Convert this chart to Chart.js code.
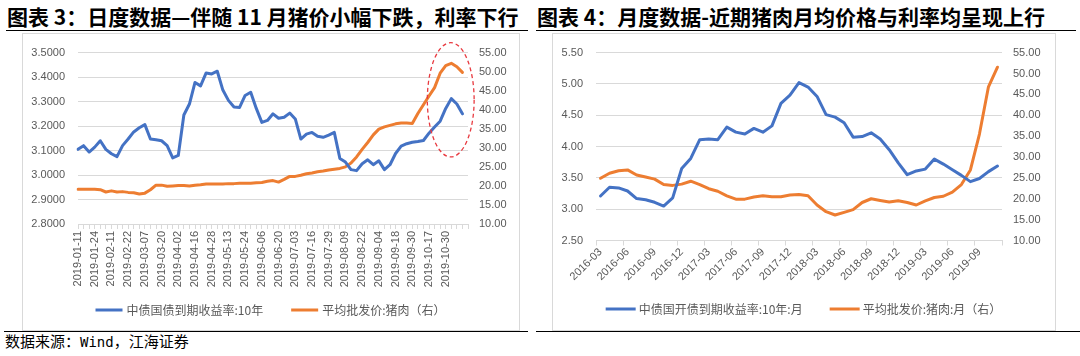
<!DOCTYPE html>
<html><head><meta charset="utf-8">
<script src="https://cdn.jsdelivr.net/npm/chart.js@4.4.1/dist/chart.umd.min.js"></script>
<style>
html,body{margin:0;padding:0;background:#fff;}
body{width:1080px;height:356px;overflow:hidden;position:relative;font-family:"Noto Sans CJK SC","Noto Sans",sans-serif;}
.title{position:absolute;top:4px;font-weight:bold;font-size:21px;line-height:25px;color:#000;white-space:nowrap;}
.rule{position:absolute;height:0;border-top:1.5px solid #000;}
.box{position:absolute;border:1px solid #d9d9d9;box-sizing:border-box;}
.cv{position:absolute;}
.src{position:absolute;left:5px;top:331px;font-size:15px;line-height:20px;color:#000;white-space:nowrap;}
.mono{font-family:"DejaVu Sans Mono","Liberation Mono",monospace;font-size:14px;}
</style>
</head><body>
<div class="title" style="left:7px;">图表 3：日度数据—伴随 11 月猪价小幅下跌，利率下行</div>
<div class="title" style="left:537px;">图表 4：月度数据-近期猪肉月均价格与利率均呈现上行</div>
<div class="rule" style="left:6px;width:522px;top:30px;"></div>
<div class="rule" style="left:536px;width:540px;top:30px;"></div>
<div class="box" style="left:22px;top:33px;width:498px;height:298px;"></div>
<div class="box" style="left:552px;top:33px;width:504px;height:298px;"></div>
<canvas id="c1" class="cv" width="497" height="297" style="left:22px;top:33px;"></canvas>
<canvas id="c2" class="cv" width="503" height="297" style="left:552px;top:33px;"></canvas>
<div class="rule" style="left:4px;width:524px;top:331px;"></div>
<div class="rule" style="left:536px;width:544px;top:331px;"></div>
<div class="src">数据来源：<span class="mono">Wind</span>，江海证券</div>
<script>
// ---------- Chart 3: daily data (sampled every ~3 trading days) ----------
const DAILY_DATES = [
 "2019-01-11","2019-01-16","2019-01-21","2019-01-24","2019-01-29","2019-02-01","2019-02-11","2019-02-14","2019-02-19","2019-02-22",
 "2019-02-27","2019-03-04","2019-03-07","2019-03-12","2019-03-15","2019-03-20","2019-03-25","2019-03-28","2019-04-02","2019-04-09",
 "2019-04-12","2019-04-16","2019-04-19","2019-04-24","2019-04-28","2019-05-06","2019-05-09","2019-05-13","2019-05-16","2019-05-21",
 "2019-05-24","2019-05-29","2019-06-03","2019-06-06","2019-06-12","2019-06-17","2019-06-20","2019-06-25","2019-06-28","2019-07-03",
 "2019-07-08","2019-07-11","2019-07-16","2019-07-19","2019-07-24","2019-07-29","2019-08-01","2019-08-06","2019-08-09","2019-08-14",
 "2019-08-19","2019-08-22","2019-08-27","2019-08-30","2019-09-04","2019-09-09","2019-09-12","2019-09-18","2019-09-23","2019-09-26",
 "2019-09-30","2019-10-10","2019-10-14","2019-10-17","2019-10-22","2019-10-25","2019-10-30","2019-11-04","2019-11-07","2019-11-12",
 "2019-11-15"];
const DAILY_LABEL_EVERY = 3;
const CGB_10Y = [
 3.105,3.120,3.094,3.114,3.140,3.105,3.087,3.075,3.120,3.147,
 3.176,3.193,3.206,3.147,3.144,3.140,3.120,3.070,3.080,3.245,
 3.290,3.378,3.364,3.417,3.413,3.424,3.347,3.305,3.278,3.276,
 3.325,3.338,3.272,3.215,3.223,3.250,3.232,3.236,3.253,3.229,
 3.147,3.167,3.174,3.158,3.154,3.163,3.174,3.068,3.053,3.022,
 3.018,3.046,3.062,3.042,3.058,3.022,3.042,3.088,3.118,3.128,
 3.134,3.137,3.141,3.171,3.196,3.220,3.272,3.312,3.290,3.250,
 null];
const PORK_DAILY = [
 19.1,19.1,19.1,19.1,19.0,18.4,18.7,18.4,18.5,18.3,
 18.2,17.9,18.1,19.0,20.2,20.2,19.9,20.0,20.1,20.1,
 20.0,20.2,20.3,20.5,20.5,20.5,20.5,20.6,20.6,20.7,
 20.7,20.7,20.8,20.9,21.2,21.4,21.0,21.7,22.5,22.5,
 22.8,23.2,23.4,23.7,23.9,24.2,24.4,24.6,25.0,26.0,
 27.6,29.6,31.4,33.4,34.9,35.5,35.9,36.3,36.5,36.5,
 36.4,39.0,41.3,43.6,45.8,49.6,51.6,52.2,51.3,49.8,
 null];
// highlight ellipse, in data units (category index, right-axis value)
const HIGHLIGHT = {iFrom:62.7, iTo:71.1, vTop:57.6, vBottom:27.6};

// ---------- Chart 4: monthly data ----------
const MONTHS = [
 "2016-03","2016-04","2016-05","2016-06","2016-07","2016-08","2016-09","2016-10","2016-11","2016-12",
 "2017-01","2017-02","2017-03","2017-04","2017-05","2017-06","2017-07","2017-08","2017-09","2017-10",
 "2017-11","2017-12","2018-01","2018-02","2018-03","2018-04","2018-05","2018-06","2018-07","2018-08",
 "2018-09","2018-10","2018-11","2018-12","2019-01","2019-02","2019-03","2019-04","2019-05","2019-06",
 "2019-07","2019-08","2019-09","2019-10","2019-11"];
const MONTH_LABEL_EVERY = 3;
const CDB_10Y = [
 3.21,3.35,3.34,3.29,3.17,3.15,3.11,3.05,3.18,3.65,
 3.81,4.11,4.12,4.11,4.31,4.23,4.20,4.29,4.23,4.33,
 4.69,4.82,5.02,4.95,4.80,4.51,4.47,4.38,4.15,4.16,
 4.22,4.12,3.95,3.74,3.55,3.61,3.64,3.80,3.72,3.63,
 3.54,3.44,3.49,3.60,3.69];
const PORK_MONTHLY = [
 24.9,26.1,26.7,26.9,25.7,25.2,24.7,23.4,23.2,23.5,
 24.2,23.4,22.4,21.8,20.7,19.9,19.9,20.4,20.7,20.5,
 20.5,20.9,21.0,20.7,18.5,16.9,16.1,16.75,17.4,19.1,
 20.0,19.6,19.2,19.5,19.1,18.5,19.5,20.3,20.6,21.6,
 23.4,26.9,35.5,46.8,51.5];

const BLUE = '#4472C4', ORANGE = '#ED7D31', GRID = '#d9d9d9', TXT = '#595959';
const TICK_FONT = {family:'"Liberation Sans", Arial, sans-serif', size:11};

const lineLegend = {
  id:'lineLegend',
  afterDraw(chart, args, o){
    const ctx = chart.ctx;
    ctx.save();
    ctx.font = o.fontSize + 'px ' + o.family;
    ctx.textBaseline = 'middle';
    const items = chart.data.datasets.map(d => ({t:d.label, c:d.borderColor, w:ctx.measureText(d.label).width}));
    let total = 0;
    items.forEach((it,k) => { total += o.lineW + o.gap + it.w + (k ? o.itemGap : 0); });
    let x = chart.width/2 - total/2 + (o.shift||0);
    items.forEach((it,k) => {
      if (k) x += o.itemGap;
      ctx.strokeStyle = it.c; ctx.lineWidth = 3; ctx.lineCap='butt';
      ctx.beginPath(); ctx.moveTo(x, o.y); ctx.lineTo(x + o.lineW, o.y); ctx.stroke();
      x += o.lineW + o.gap;
      ctx.fillStyle = o.color; ctx.fillText(it.t, x, o.y);
      x += it.w;
    });
    ctx.restore();
  }
};

const ellipsePlugin = {
  id:'ellipseMark',
  afterDatasetsDraw(chart, args, o){
    if (!o || !o.box) return;
    const xs = chart.scales.x, ys = chart.scales.y1, b = o.box;
    const x1 = xs.getPixelForValue(b.iFrom), x2 = xs.getPixelForValue(b.iTo);
    const y1 = ys.getPixelForValue(b.vTop), y2 = ys.getPixelForValue(b.vBottom);
    const ctx = chart.ctx;
    ctx.save();
    ctx.strokeStyle = '#e8393f'; ctx.lineWidth = 1.3; ctx.setLineDash([4,3]);
    ctx.beginPath();
    ctx.ellipse((x1+x2)/2, (y1+y2)/2, Math.abs(x2-x1)/2, Math.abs(y2-y1)/2, 0, 0, Math.PI*2);
    ctx.stroke();
    ctx.restore();
  }
};

function lineDs(label, data, color, axis){
  return {label, data, borderColor:color, backgroundColor:color, borderWidth:3, pointRadius:0,
          tension:0, yAxisID:axis, borderJoinStyle:'round', borderCapStyle:'round', spanGaps:false};
}

new Chart(document.getElementById('c1'), {
  type:'line',
  data:{labels:DAILY_DATES, datasets:[
    lineDs('中债国债到期收益率:10年', CGB_10Y, BLUE, 'y'),
    lineDs('平均批发价:猪肉（右）', PORK_DAILY, ORANGE, 'y1')
  ]},
  plugins:[lineLegend, ellipsePlugin],
  options:{
    responsive:false, animation:false, devicePixelRatio:1,
    layout:{padding:{top:14, bottom:40, left:0, right:0}},
    plugins:{legend:{display:false}, tooltip:{enabled:false},
      lineLegend:{y:277, lineW:27, gap:4, itemGap:28, fontSize:12, family:'"Noto Sans CJK SC", sans-serif', color:TXT},
      ellipseMark:{box:HIGHLIGHT}},
    scales:{
      x:{offset:false,
         grid:{drawOnChartArea:false, color:GRID, tickLength:5},
         border:{color:GRID},
         ticks:{autoSkip:false, minRotation:90, maxRotation:90, padding:2, color:TXT, font:TICK_FONT,
                callback:function(v,i){ return i % DAILY_LABEL_EVERY === 0 && i < 69 ? this.getLabelForValue(v) : ''; }},
         afterFit:s => { s.height = 66; }},
      y:{position:'left', min:2.8, max:3.5,
         ticks:{stepSize:0.1, padding:13, color:TXT, font:TICK_FONT, callback:v => Number(v).toFixed(4)},
         grid:{color:GRID, drawTicks:false}, border:{display:false},
         afterFit:s => { s.width = 56; }},
      y1:{position:'right', min:10, max:55,
         ticks:{stepSize:5, padding:11, color:TXT, font:TICK_FONT, callback:v => Number(v).toFixed(2)},
         grid:{drawOnChartArea:false, drawTicks:false}, border:{display:false},
         afterFit:s => { s.width = 51; }}
    }
  }
});

new Chart(document.getElementById('c2'), {
  type:'line',
  data:{labels:MONTHS, datasets:[
    lineDs('中债国开债到期收益率:10年:月', CDB_10Y, BLUE, 'y'),
    lineDs('平均批发价:猪肉:月（右）', PORK_MONTHLY, ORANGE, 'y1')
  ]},
  plugins:[lineLegend],
  options:{
    responsive:false, animation:false, devicePixelRatio:1,
    layout:{padding:{top:15, bottom:40, left:0, right:0}},
    plugins:{legend:{display:false}, tooltip:{enabled:false},
      lineLegend:{y:276, lineW:30, gap:3, itemGap:27, fontSize:12, family:'"Noto Sans CJK SC", sans-serif', color:TXT}},
    scales:{
      x:{offset:true,
         grid:{drawOnChartArea:false, offset:true, tickLength:5,
               color:ctx => (ctx.index === undefined || ctx.index % MONTH_LABEL_EVERY === 0) ? GRID : 'rgba(0,0,0,0)'},
         border:{color:GRID},
         ticks:{autoSkip:false, minRotation:45, maxRotation:45, padding:0, color:TXT, font:TICK_FONT,
                callback:function(v,i){ return i % MONTH_LABEL_EVERY === 0 ? this.getLabelForValue(v) : ''; }},
         afterFit:s => { s.height = 49.5; }},
      y:{position:'left', min:2.5, max:5.5,
         ticks:{stepSize:0.5, padding:13, color:TXT, font:TICK_FONT, callback:v => Number(v).toFixed(2)},
         grid:{color:GRID, drawTicks:false}, border:{display:false},
         afterFit:s => { s.width = 44; }},
      y1:{position:'right', min:10, max:55,
         ticks:{stepSize:5, padding:11, color:TXT, font:TICK_FONT, callback:v => Number(v).toFixed(2)},
         grid:{drawOnChartArea:false, drawTicks:false}, border:{display:false},
         afterFit:s => { s.width = 53; }}
    }
  }
});
</script>
</body></html>
